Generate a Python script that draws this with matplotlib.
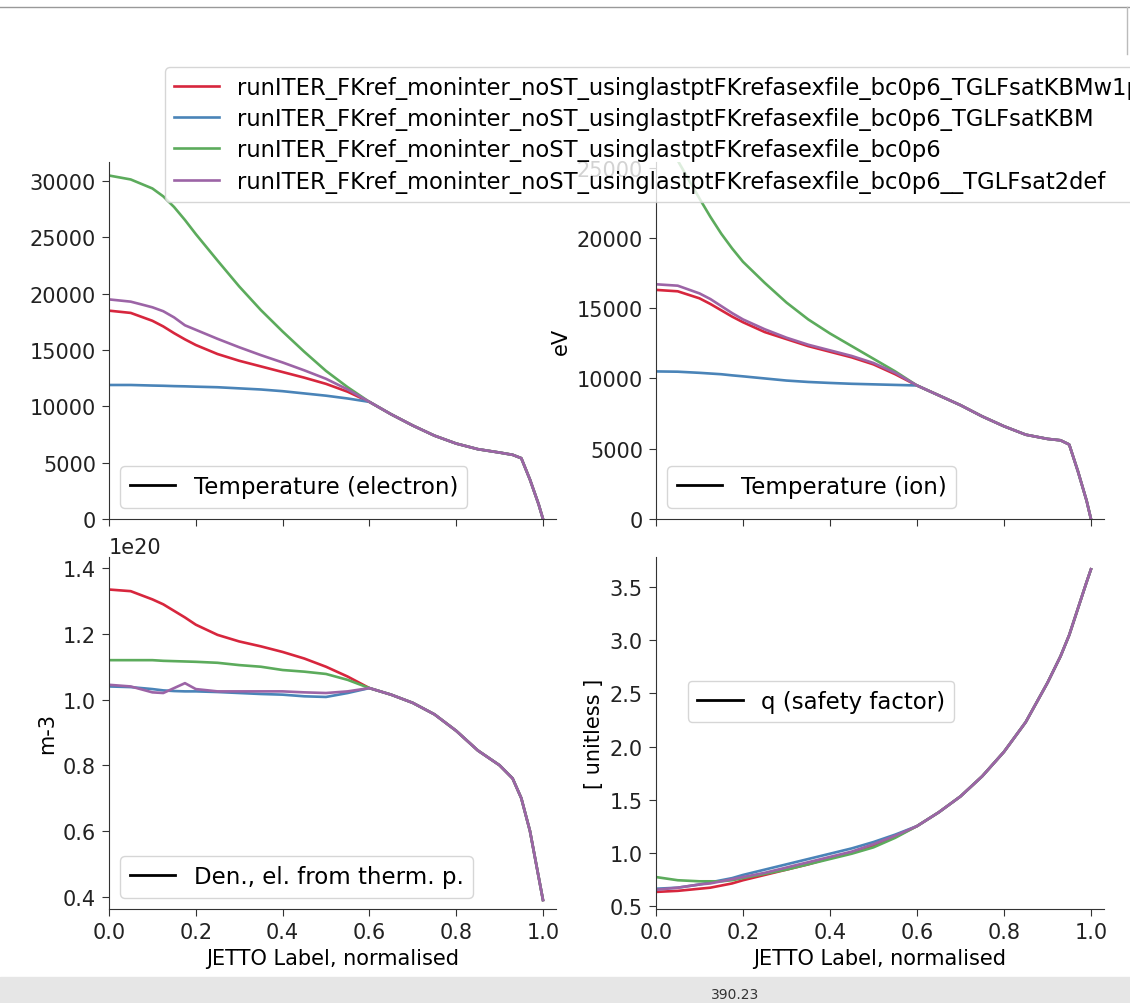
import matplotlib
matplotlib.use("Agg")
import matplotlib.pyplot as plt
from matplotlib.lines import Line2D
from matplotlib.patches import Rectangle
import numpy as np

plt.rcParams['font.family'] = ['DejaVu Sans']
plt.rcParams['font.size'] = 15

# radial grid (JETTO label, normalised)
rho = [0.0, 0.05, 0.1, 0.125, 0.15, 0.175, 0.2, 0.25, 0.3, 0.35, 0.4, 0.45, 0.5, 0.55,
       0.6, 0.65, 0.7, 0.75, 0.8, 0.85, 0.9, 0.93, 0.95, 0.97, 0.99, 1.0]

run_labels = [
    "runITER_FKref_moninter_noST_usinglastptFKrefasexfile_bc0p6_TGLFsatKBMw1p0",
    "runITER_FKref_moninter_noST_usinglastptFKrefasexfile_bc0p6_TGLFsatKBM",
    "runITER_FKref_moninter_noST_usinglastptFKrefasexfile_bc0p6",
    "runITER_FKref_moninter_noST_usinglastptFKrefasexfile_bc0p6__TGLFsat2def",
]
run_colors = ['#d7263d', '#4a84b8', '#5cab5c', '#9c64a6']

# electron temperature (eV)
te_edge = [10400, 9300, 8300, 7400, 6700, 6200, 5900, 5700, 5400, 3500, 1300, 0]
te_red = [18500, 18300, 17600, 17100, 16500, 15950, 15450, 14650, 14050, 13550, 13050, 12550, 12000, 11300] + te_edge
te_blue = [11900, 11900, 11850, 11830, 11800, 11780, 11750, 11700, 11600, 11500, 11350, 11150, 10950, 10700] + te_edge
te_green = [30500, 30150, 29350, 28650, 27700, 26550, 25300, 22950, 20650, 18550, 16650, 14850, 13150, 11700] + te_edge
te_purple = [19500, 19300, 18800, 18450, 17900, 17200, 16800, 16000, 15250, 14550, 13900, 13200, 12450, 11500] + te_edge

# ion temperature (eV)
ti_edge = [9500, 8800, 8100, 7300, 6600, 6000, 5700, 5600, 5300, 3400, 1300, 0]
ti_red = [16300, 16200, 15700, 15300, 14850, 14400, 14000, 13300, 12800, 12300, 11900, 11500, 11000, 10300] + ti_edge
ti_blue = [10500, 10480, 10400, 10350, 10300, 10220, 10150, 10000, 9850, 9750, 9680, 9620, 9580, 9540] + ti_edge
ti_green = [28500, 25500, 22800, 21500, 20300, 19250, 18300, 16800, 15400, 14200, 13200, 12300, 11400, 10500] + ti_edge
ti_purple = [16700, 16600, 16050, 15650, 15150, 14650, 14200, 13500, 12900, 12400, 12000, 11600, 11100, 10400] + ti_edge

# electron density (1e20 m-3)
ne_edge = [1.035, 1.015, 0.99, 0.955, 0.905, 0.845, 0.80, 0.76, 0.70, 0.60, 0.46, 0.39]
ne_red = [1.335, 1.33, 1.305, 1.29, 1.27, 1.25, 1.228, 1.197, 1.177, 1.162, 1.145, 1.125, 1.10, 1.07] + ne_edge
ne_blue = [1.04, 1.038, 1.032, 1.028, 1.026, 1.025, 1.025, 1.023, 1.02, 1.017, 1.015, 1.01, 1.008, 1.02] + ne_edge
ne_green = [1.12, 1.12, 1.12, 1.118, 1.117, 1.116, 1.115, 1.112, 1.105, 1.10, 1.09, 1.085, 1.078, 1.06] + ne_edge
ne_purple = [1.045, 1.04, 1.022, 1.02, 1.035, 1.05, 1.032, 1.025, 1.025, 1.025, 1.025, 1.022, 1.02, 1.025] + ne_edge

# safety factor
q_edge = [1.25, 1.38, 1.53, 1.72, 1.95, 2.23, 2.60, 2.85, 3.05, 3.30, 3.55, 3.67]
q_red = [0.63, 0.64, 0.66, 0.67, 0.69, 0.71, 0.74, 0.79, 0.84, 0.89, 0.95, 1.00, 1.07, 1.15] + q_edge
q_blue = [0.66, 0.67, 0.70, 0.72, 0.74, 0.76, 0.79, 0.84, 0.89, 0.94, 0.99, 1.04, 1.10, 1.17] + q_edge
q_green = [0.77, 0.74, 0.73, 0.73, 0.73, 0.74, 0.76, 0.80, 0.84, 0.89, 0.94, 0.99, 1.05, 1.14] + q_edge
q_purple = [0.65, 0.67, 0.70, 0.71, 0.73, 0.75, 0.77, 0.81, 0.86, 0.91, 0.96, 1.01, 1.08, 1.16] + q_edge

W, H = 1130, 1004
fig = plt.figure(figsize=(W / 100, H / 100), dpi=100)

def px_axes(x0, y0, x1, y1):
    return fig.add_axes([x0 / W, 1 - y1 / H, (x1 - x0) / W, (y1 - y0) / H])

ax_te = px_axes(109, 163, 556, 520)
ax_ti = px_axes(656, 163, 1104, 520)
ax_ne = px_axes(109, 558, 556, 910)
ax_q = px_axes(656, 558, 1104, 910)

panels = [
    (ax_te, [te_red, te_blue, te_green, te_purple], 1.0, "Temperature (electron)", None),
    (ax_ti, [ti_red, ti_blue, ti_green, ti_purple], 1.0, "Temperature (ion)", "eV"),
    (ax_ne, [ne_red, ne_blue, ne_green, ne_purple], 1e20, "Den., el. from therm. p.", "m-3"),
    (ax_q, [q_red, q_blue, q_green, q_purple], 1.0, "q (safety factor)", "[ unitless ]"),
]

lines = []
for ax, series, scale, leg_label, ylabel in panels:
    for vals, col in zip(series, run_colors):
        l, = ax.plot(rho, np.array(vals) * scale, color=col, lw=1.9)
        if ax is ax_te:
            lines.append(l)
    ax.spines['top'].set_visible(False)
    ax.spines['right'].set_visible(False)
    ax.spines['left'].set_color('#333333')
    ax.spines['bottom'].set_color('#333333')
    ax.tick_params(colors='#333333', labelcolor='#222222', length=4.7, pad=4.7)
    ax.set_xlim(0, 1.03)
    ax.set_xticks([0.0, 0.2, 0.4, 0.6, 0.8, 1.0])
    if ylabel:
        ax.set_ylabel(ylabel)
    h = [Line2D([], [], color='black', lw=2)]
    if ax is ax_q:
        ax.legend(h, [leg_label], loc='center left', bbox_to_anchor=(0.045, 0.59),
                  fontsize=16.5)
    else:
        ax.legend(h, [leg_label], loc='lower left', fontsize=16.5)

ax_te.set_ylim(0, 31700)
ax_te.set_yticks([0, 5000, 10000, 15000, 20000, 25000, 30000])
ax_ti.set_ylim(0, 25400)
ax_ti.set_yticks([0, 5000, 10000, 15000, 20000, 25000])
ax_ne.set_ylim(0.3626e20, 1.434e20)
ax_q.set_ylim(0.469, 3.786)

for ax in (ax_te, ax_ti):
    ax.tick_params(labelbottom=False)
for ax in (ax_ne, ax_q):
    ax.set_xlabel("JETTO Label, normalised")

fig.legend(lines, run_labels, loc='upper left', bbox_to_anchor=(165 / W, 1 - 68 / H),
           fontsize=16.3, borderaxespad=0, labelspacing=0.36)

# screenshot frame bits
fig.add_artist(Line2D([0, 1], [1 - 8 / H, 1 - 8 / H], transform=fig.transFigure, color='#999999', lw=1))
fig.add_artist(Line2D([1127 / W, 1127 / W], [1 - 8 / H, 1 - 55 / H], transform=fig.transFigure, color='#bbbbbb', lw=1))
fig.add_artist(Rectangle((0, 0), 1, 26 / H, transform=fig.transFigure, color='#e6e6e6', zorder=0))
fig.text(735 / W, 9 / H, "390.23", ha='center', va='center', fontsize=10, color='#333333')

fig.savefig("out.png", dpi=100)
